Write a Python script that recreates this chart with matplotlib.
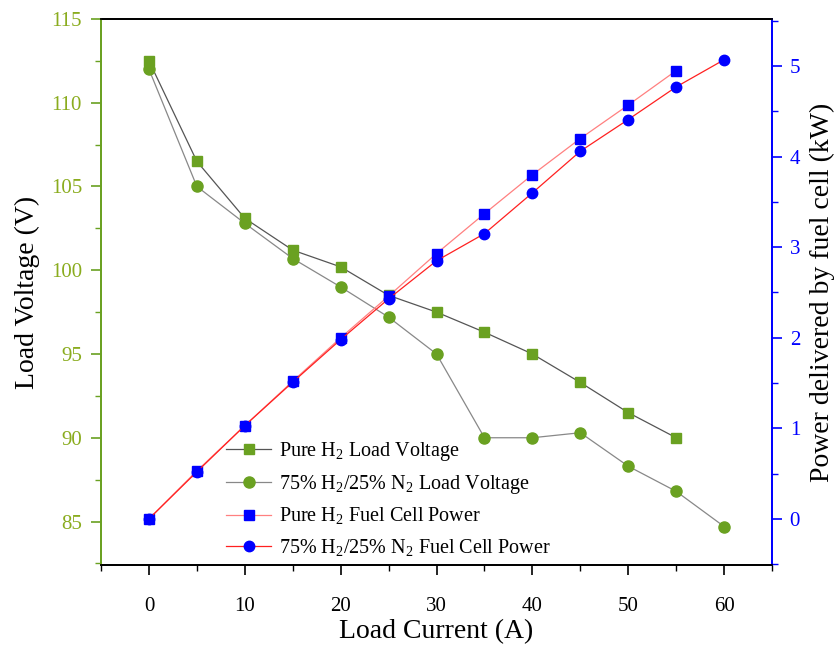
import matplotlib
matplotlib.use('Agg')
from matplotlib import pyplot as plt
from matplotlib.ticker import MultipleLocator

# data
current_pure = [0, 5, 10, 15, 20, 25, 30, 35, 40, 45, 50, 55]
current_mix = [0, 5, 10, 15, 20, 25, 30, 35, 40, 45, 50, 55, 60]
volt_pure = [112.5, 106.5, 103.1, 101.2, 100.2, 98.5, 97.5, 96.3, 95.0, 93.3, 91.5, 90.0]
volt_mix = [112.0, 105.0, 102.8, 100.7, 99.0, 97.2, 95.0, 90.0, 90.0, 90.3, 88.3, 86.8, 84.7]
power_pure = [0.0, 0.53, 1.03, 1.52, 2.00, 2.46, 2.93, 3.37, 3.80, 4.20, 4.57, 4.95]
power_mix = [0.0, 0.52, 1.03, 1.51, 1.98, 2.43, 2.85, 3.15, 3.60, 4.06, 4.41, 4.77, 5.07]

green = '#6aa121'
green_txt = '#8aac1e'
blue = '#0000ff'

plt.rcParams['font.family'] = ['Liberation Serif', 'DejaVu Serif']
plt.rcParams['mathtext.fontset'] = 'custom'
plt.rcParams['mathtext.rm'] = 'Liberation Serif'

fig = plt.figure(figsize=(8.39, 6.48), dpi=100)
ax = fig.add_axes([0.1204, 0.128, 0.7998, 0.8427])
ax2 = ax.twinx()

l1, = ax.plot(current_pure, volt_pure, color='#555555', lw=0.9, marker='s', ms=7.5,
              mfc=green, mec=green, label=r'Pure H$_2$ Load Voltage')
l2, = ax.plot(current_mix, volt_mix, color='#888888', lw=0.9, marker='o', ms=8,
              mfc=green, mec=green, label=r'75% H$_2$/25% N$_2$ Load Voltage')
l3, = ax2.plot(current_pure, power_pure, color='#ff8080', lw=0.9, marker='s', ms=7,
               mfc=blue, mec=blue, label=r'Pure H$_2$ Fuel Cell Power')
l4, = ax2.plot(current_mix, power_mix, color='#ff2020', lw=0.9, marker='o', ms=7.5,
               mfc=blue, mec=blue, label=r'75% H$_2$/25% N$_2$ Fuel Cell Power')

ax.set_xlim(-5, 65)
ax.set_ylim(82.4, 115)
ax2.set_ylim(-0.51, 5.52)

ax.xaxis.set_major_locator(MultipleLocator(10))
ax.xaxis.set_minor_locator(MultipleLocator(5))
ax.yaxis.set_major_locator(MultipleLocator(5))
ax.yaxis.set_minor_locator(MultipleLocator(2.5))
ax2.yaxis.set_major_locator(MultipleLocator(1))
ax2.yaxis.set_minor_locator(MultipleLocator(0.5))

ax.tick_params(axis='x', which='major', direction='out', length=7, width=1.2,
               labelsize=15, pad=16)
ax.tick_params(axis='x', which='minor', direction='out', length=4, width=1)
ax.tick_params(axis='y', which='major', direction='out', length=7, width=1.2,
               colors=green, labelcolor=green_txt, labelsize=15, pad=6.7)
ax.tick_params(axis='y', which='minor', direction='out', length=4, width=1, colors=green)
ax2.tick_params(axis='y', which='major', direction='out', length=7, width=1.2,
                colors=blue, labelsize=15, pad=5.7)
ax2.tick_params(axis='y', which='minor', direction='out', length=4, width=1, colors=blue)

for a in (ax, ax2):
    a.spines['left'].set_color(green)
    a.spines['right'].set_color(blue)
    for s in a.spines.values():
        s.set_linewidth(1.3)

ax.set_xlabel('Load Current (A)', fontsize=20, labelpad=2)
ax.set_ylabel('Load Voltage (V)', fontsize=20, labelpad=8)
ax2.set_ylabel('Power delivered by fuel cell (kW)', fontsize=20, labelpad=7)

ax2.legend(handles=[l1, l2, l3, l4], loc='lower left', bbox_to_anchor=(0.187, 0.012),
           borderaxespad=0, borderpad=0, frameon=False, fontsize=14.5,
           handlelength=2.2, handletextpad=0.4, labelspacing=0.5)

plt.savefig('out.png', dpi=100)
